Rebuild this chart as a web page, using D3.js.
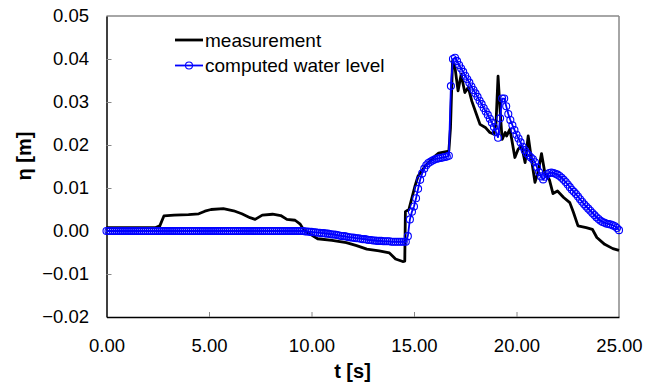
<!DOCTYPE html>
<html>
<head>
<meta charset="utf-8">
<script src="https://cdn.jsdelivr.net/npm/d3@7"></script>
<style>
  body { margin: 0; background: #fff; }
  svg { font-family: "Liberation Sans", Arial, sans-serif; }
  .axis text { font-size: 18.5px; fill: #000; }
  .axis line { stroke: #888; }
</style>
</head>
<body>
<svg id="chart"></svg>
<script>
// measured water level: breakpoints [t, eta]
const measT = [0.0, 2.4, 2.6, 2.8, 3.3, 4.0, 4.5, 4.8, 5.1, 5.7, 6.2, 6.6, 7.0, 7.25, 7.6, 8.1, 8.5, 8.8, 9.2, 9.45,
  9.6, 9.85, 10.3, 11.0, 11.7, 12.2, 12.7, 13.3, 13.8, 14.1, 14.45, 14.55, 14.58, 14.75, 15.05, 15.2, 15.55, 16.0, 16.2, 16.7,
  16.78, 16.88, 17.0, 17.15, 17.3, 17.48, 17.65, 17.82, 18.05, 18.22, 18.5, 18.7, 18.9, 19.0, 19.1, 19.2, 19.3, 19.45, 19.52, 19.68,
  19.92, 20.08, 20.25, 20.42, 20.57, 20.73, 20.9, 21.05, 21.22, 21.38, 21.6, 21.78, 22.0, 22.3, 22.6, 22.78, 23.0, 23.4, 23.7, 23.92,
  24.3, 24.7, 25.0];
const measV = [0.0008, 0.0008, 0.0012, 0.0035, 0.0037, 0.0038, 0.0040, 0.0046, 0.0050, 0.0052, 0.0047, 0.0040, 0.0031, 0.0027, 0.0037, 0.0039, 0.0036, 0.0027, 0.0025, 0.0016,
  0.0004, -0.0005, -0.0018, -0.0022, -0.0027, -0.0034, -0.0042, -0.0046, -0.0051, -0.0065, -0.0071, -0.0070, 0.0045, 0.0050, 0.0105, 0.0128, 0.0151, 0.0173, 0.0181, 0.0186,
  0.0240, 0.0395, 0.0380, 0.0326, 0.0364, 0.0322, 0.0334, 0.0302, 0.0271, 0.0248, 0.0240, 0.0229, 0.0225, 0.0250, 0.0360, 0.0280, 0.0213, 0.0229, 0.0221, 0.0237,
  0.0171, 0.0190, 0.0198, 0.0159, 0.0221, 0.0167, 0.0113, 0.0136, 0.0180, 0.0136, 0.0120, 0.0087, 0.0093, 0.0078, 0.0066, 0.0043, 0.0012, 0.0008, 0.0004, -0.0015,
  -0.0031, -0.0041, -0.0045];

// computed water level, one value every 0.1 s from t = 0 to 25 s (one row per second)
const compStep = 0.1;
const compV = [
  0, 0, 0, 0, 0, 0, 0, 0, 0, 0,
  0, 0, 0, 0, 0, 0, 0, 0, 0, 0,
  0, 0, 0, 0, 0, 0, 0, 0, 0, 0,
  0, 0, 0, 0, 0, 0, 0, 0, 0, 0,
  0, 0, 0, 0, 0, 0, 0, 0, 0, 0,
  0, 0, 0, 0, 0, 0, 0, 0, 0, 0,
  0, 0, 0, 0, 0, 0, 0, 0, 0, 0,
  0, 0, 0, 0, 0, 0, 0, 0, 0, 0,
  0, 0, 0, 0, 0, 0, 0, 0, 0, 0,
  0, 0, 0, 0, 0, 0, 0, -0.0001, -0.0001, -0.0002,
  -0.0002, -0.0003, -0.0003, -0.0004, -0.0004, -0.0005, -0.0005, -0.0006, -0.0006, -0.0007,
  -0.0008, -0.0008, -0.0009, -0.0010, -0.0011, -0.0012, -0.0012, -0.0013, -0.0014, -0.0015,
  -0.0015, -0.0016, -0.0017, -0.0017, -0.0018, -0.0019, -0.0019, -0.0020, -0.0021, -0.0021,
  -0.0022, -0.0022, -0.0023, -0.0023, -0.0023, -0.0024, -0.0024, -0.0024, -0.0024, -0.0025,
  -0.0025, -0.0025, -0.0025, -0.0025, -0.0025, -0.0025, -0.0025, -0.0012, 0.0027, 0.0045,
  0.0057, 0.0076, 0.0098, 0.0119, 0.0134, 0.0145, 0.0153, 0.0158, 0.0161, 0.0164,
  0.0166, 0.0168, 0.0169, 0.0170, 0.0171, 0.0172, 0.0173, 0.0175, 0.0337, 0.0400,
  0.0403, 0.0395, 0.0386, 0.0378, 0.0370, 0.0361, 0.0353, 0.0345, 0.0336, 0.0328,
  0.0320, 0.0312, 0.0303, 0.0295, 0.0286, 0.0278, 0.0270, 0.0261, 0.0252, 0.0242,
  0.0230, 0.0217, 0.0262, 0.0308, 0.0308, 0.0290, 0.0272, 0.0258, 0.0246, 0.0235,
  0.0224, 0.0215, 0.0206, 0.0196, 0.0188, 0.0181, 0.0176, 0.0171, 0.0167, 0.0160,
  0.0148, 0.0137, 0.0127, 0.0120, 0.0126, 0.0132, 0.0135, 0.0136, 0.0135, 0.0133,
  0.0131, 0.0128, 0.0124, 0.0119, 0.0114, 0.0108, 0.0102, 0.0096, 0.0091, 0.0086,
  0.0080, 0.0074, 0.0068, 0.0062, 0.0057, 0.0052, 0.0047, 0.0042, 0.0037, 0.0032,
  0.0028, 0.0024, 0.0021, 0.0019, 0.0017, 0.0016, 0.0015, 0.0013, 0.0011, 0.0007,
  0.0002
];

const xTicks = [0, 5, 10, 15, 20, 25];
const yTicks = [-0.02, -0.01, 0, 0.01, 0.02, 0.03, 0.04, 0.05];
const seriesNames = ["measurement", "computed water level"];

const W = 659, H = 386;
const margin = { top: 16, right: 40, bottom: 69, left: 106.5 };
const width = W - margin.left - margin.right;
const height = H - margin.top - margin.bottom;

const svg = d3.select("#chart").attr("width", W).attr("height", H);
svg.append("rect").attr("width", W).attr("height", H).attr("fill", "#fff");

const chart = svg.append("g").attr("transform", `translate(${margin.left},${margin.top})`);

const x = d3.scaleLinear().domain([0, 25]).range([0, width]);
const y = d3.scaleLinear().domain([-0.02, 0.05]).range([height, 0]);

// frame: grey top/right
chart.append("line").attr("x1", 0).attr("x2", width).attr("y1", 0).attr("y2", 0)
  .attr("stroke", "#888").attr("stroke-width", 1.5);
chart.append("line").attr("x1", width).attr("x2", width).attr("y1", 0).attr("y2", height)
  .attr("stroke", "#888").attr("stroke-width", 1.5);

const xAxis = d3.axisBottom(x).tickValues(xTicks).tickFormat(d3.format(".2f"))
  .tickSizeInner(-5).tickSizeOuter(0).tickPadding(22);
const yAxis = d3.axisLeft(y).tickValues(yTicks).tickFormat(d3.format(".2f"))
  .tickSizeInner(-5).tickSizeOuter(0).tickPadding(17.5);

const xAxisG = chart.append("g").attr("class", "axis")
  .attr("transform", `translate(0,${height})`).call(xAxis);
const yAxisG = chart.append("g").attr("class", "axis").call(yAxis);
xAxisG.select(".domain").attr("stroke", "#000").attr("stroke-width", 1.5);
yAxisG.select(".domain").attr("stroke", "#000").attr("stroke-width", 1.5);
xAxisG.selectAll(".tick line").filter(d => d === 0 || d === 25).remove();
yAxisG.selectAll(".tick line").filter(d => d === -0.02 || d === 0.05).remove();

// axis titles
svg.append("text").attr("x", 352.5).attr("y", 378).attr("text-anchor", "middle")
  .attr("font-size", 20).attr("font-weight", "bold").text("t [s]");
svg.append("text").attr("transform", "translate(31,156) rotate(-90)").attr("text-anchor", "middle")
  .attr("font-size", 20).attr("font-weight", "bold").text("η [m]");

// series
const measData = measT.map((t, i) => ({ t, v: measV[i] }));
const compData = compV.map((v, i) => ({ t: i * compStep, v }));

const line = d3.line().x(d => x(d.t)).y(d => y(d.v));

chart.append("path").datum(measData).attr("d", line)
  .attr("fill", "none").attr("stroke", "#000").attr("stroke-width", 2.8).attr("stroke-linejoin", "round");

chart.append("path").datum(compData).attr("d", line)
  .attr("fill", "none").attr("stroke", "#0000ff").attr("stroke-width", 1.8);

chart.selectAll(".pt").data(compData).join("circle")
  .attr("class", "pt")
  .attr("cx", d => x(d.t)).attr("cy", d => y(d.v)).attr("r", 3.5)
  .attr("fill", "none").attr("stroke", "#0000ff").attr("stroke-width", 1.1);

// legend
const legend = svg.append("g");
seriesNames.forEach((name, i) => {
  const ly = 40 + i * 25.5;
  const col = i === 0 ? "#000" : "#0000ff";
  legend.append("line").attr("x1", 175).attr("x2", 203).attr("y1", ly).attr("y2", ly)
    .attr("stroke", col).attr("stroke-width", i === 0 ? 2.8 : 1.8);
  if (i === 1) {
    legend.append("circle").attr("cx", 189).attr("cy", ly).attr("r", 3.5)
      .attr("fill", "none").attr("stroke", col).attr("stroke-width", 1.1);
  }
  legend.append("text").attr("x", 205).attr("y", ly + 6.7).attr("font-size", 19).text(name);
});
</script>
</body>
</html>
